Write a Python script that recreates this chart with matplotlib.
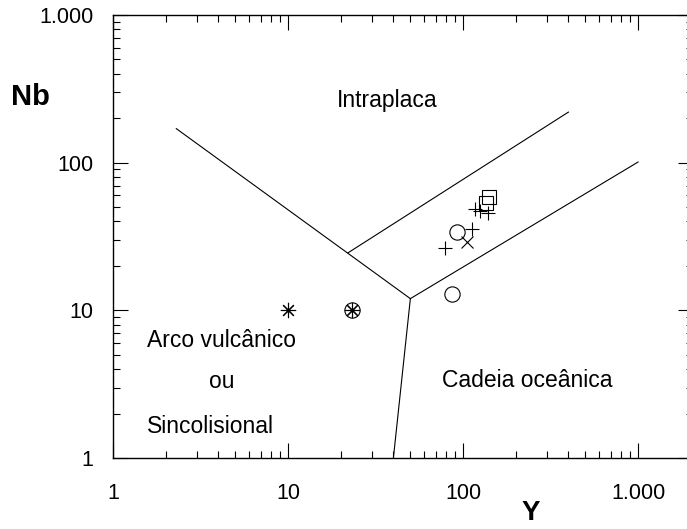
import numpy as np
import matplotlib.pyplot as plt
from matplotlib.ticker import FixedLocator, FixedFormatter, LogLocator, NullFormatter

plt.rcParams['font.family'] = ['Liberation Sans', 'DejaVu Sans']

# Limites dos campos (Pearce et al., diagrama Nb x Y)
linha1_y = [2.3, 50]
linha1_nb = [170, 12]
linha2_y = [22, 400]
linha2_nb = [24.5, 220]
linha3_y = [50, 1000]
linha3_nb = [12, 101]
linha4_y = [50, 40]
linha4_nb = [12, 1]

# Amostras
quad_y = [141, 135]
quad_nb = [58.5, 53]
mais_y = [117, 125, 139, 113, 79]
mais_nb = [48.5, 47, 45.5, 35.5, 26.4]
circ_y = [92.4, 86.5, 23.2]
circ_nb = [34, 12.9, 10]
xis_y = [105]
xis_nb = [29]
ast_y = [10, 23.2]
ast_nb = [10, 10]

ticks = [1, 10, 100, 1000]
tick_labels = ['1', '10', '100', '1.000']

fig = plt.figure(figsize=(6.87, 5.29), dpi=100)
# o eixo direito fica cortado na borda, como no original
ax = fig.add_axes([113 / 687, 71 / 529, 580 / 687, 443 / 529])

for xs, ys in [(linha1_y, linha1_nb), (linha2_y, linha2_nb),
               (linha3_y, linha3_nb), (linha4_y, linha4_nb)]:
    ax.plot(xs, ys, color='black', lw=0.8)

mk = dict(color='black', linestyle='none', markerfacecolor='none', markeredgewidth=0.8)
ax.plot(quad_y, quad_nb, marker='s', markersize=10, **mk)
ax.plot(mais_y, mais_nb, marker='+', markersize=10, **mk)
ax.plot(circ_y, circ_nb, marker='o', markersize=11, **mk)
ax.plot(xis_y, xis_nb, marker='x', markersize=9, **mk)
ax.plot(ast_y, ast_nb, marker=(8, 2, 0), markersize=11, **mk)

ax.set_xscale('log')
ax.set_yscale('log')
ax.set_xlim(1, 2060)
ax.set_ylim(1, 1000)

for axis in (ax.xaxis, ax.yaxis):
    axis.set_major_locator(FixedLocator(ticks))
    axis.set_major_formatter(FixedFormatter(tick_labels))
    axis.set_minor_locator(LogLocator(base=10, subs=np.arange(2, 10)))
    axis.set_minor_formatter(NullFormatter())

ax.tick_params(which='both', direction='in', top=True, right=True, width=0.8)
ax.tick_params(which='major', length=11)
ax.tick_params(which='minor', length=5)
ax.tick_params(axis='x', which='major', labelsize=15.5, pad=18)
ax.tick_params(axis='y', which='major', labelsize=15.5, pad=14)
for s in ax.spines.values():
    s.set_linewidth(1.0)

fig.text(30 / 687, 1 - 97 / 529, 'Nb', fontsize=21, fontweight='bold', ha='center', va='center')
fig.text(531 / 687, 1 - 513 / 529, 'Y', fontsize=20, fontweight='bold', ha='center', va='center')

tk = dict(transform=ax.transAxes, fontsize=16.5, va='center')
ax.text(0.472, 0.808, 'Intraplaca', ha='center', **tk)
ax.text(0.059, 0.266, 'Arco vulcânico', ha='left', **tk)
ax.text(0.188, 0.172, 'ou', ha='center', **tk)
ax.text(0.059, 0.070, 'Sincolisional', ha='left', **tk)
ax.text(0.714, 0.176, 'Cadeia oceânica', ha='center', **tk)

fig.savefig('out.png', dpi=100)
